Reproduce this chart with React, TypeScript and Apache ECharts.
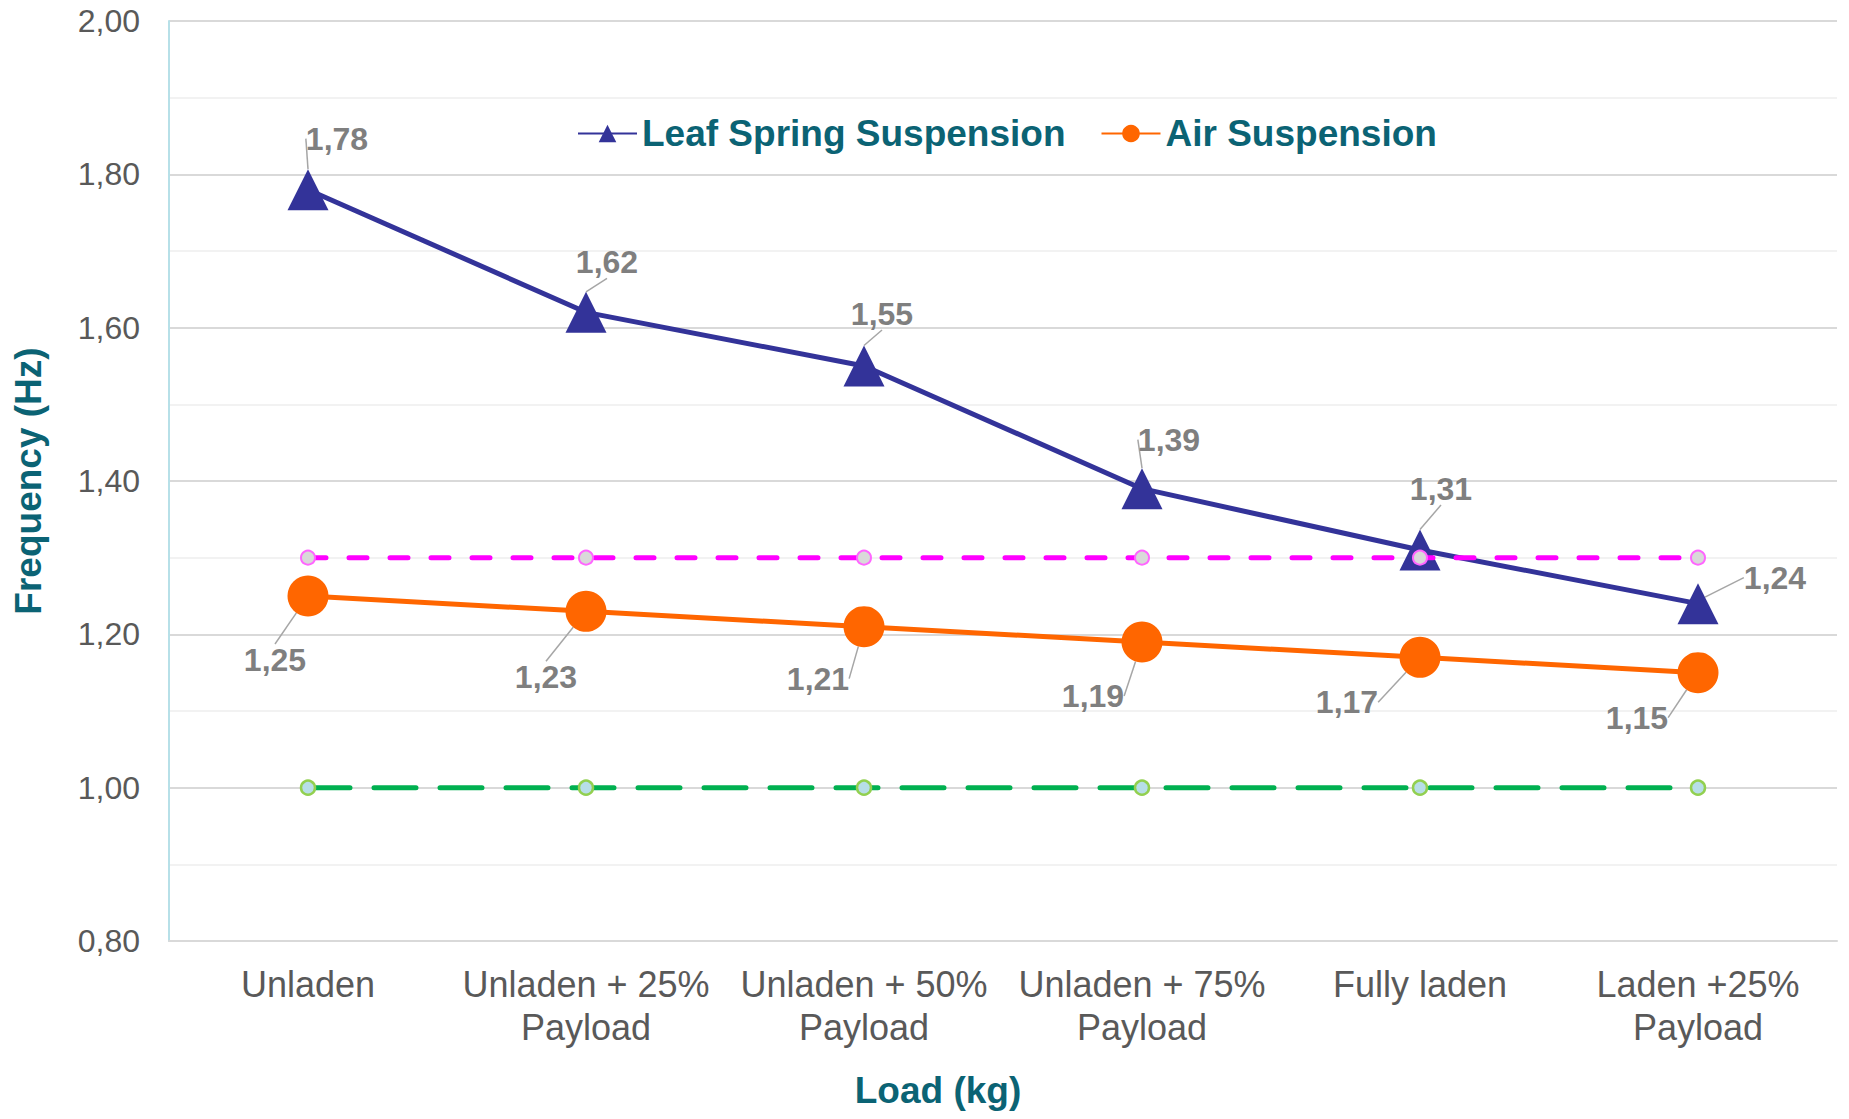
import React, { useEffect, useRef } from "react";
import * as echarts from "echarts";

const categories = [
  "Unladen",
  "Unladen + 25%\nPayload",
  "Unladen + 50%\nPayload",
  "Unladen + 75%\nPayload",
  "Fully laden",
  "Laden +25%\nPayload",
];
const leafSpring = [1.78, 1.62, 1.55, 1.39, 1.31, 1.24];
const airSuspension = [1.25, 1.23, 1.21, 1.19, 1.17, 1.15];
const upperLimit = [1.3, 1.3, 1.3, 1.3, 1.3, 1.3];
const lowerLimit = [1.0, 1.0, 1.0, 1.0, 1.0, 1.0];

// label offsets (px) from each point, as in the reference
const leafLabelOffsets = [[29, -51], [21, -50], [18, -52], [27, -49], [21, -61], [77, -26]];
const airLabelOffsets = [[-33, 64], [-40, 66], [-46, 52], [-49, 54], [-73, 45], [-61, 45]];

const FONT = "'Liberation Sans', Arial, sans-serif";
const TEAL = "#0b6374";
const fmt = (v: number) => v.toFixed(2).replace(".", ",");

export default function App() {
  const ref = useRef<HTMLDivElement>(null);
  useEffect(() => {
    if (!ref.current) return;
    const chart = echarts.init(ref.current, null, { renderer: "svg" });
    const dataLabel = {
      show: true,
      position: "inside" as const,
      formatter: (p: any) => fmt(p.value),
      color: "#7f7f7f",
      fontSize: 32,
      fontWeight: "bold" as const,
      fontFamily: FONT,
    };
    const labelLine = { show: true, lineStyle: { color: "#a6a6a6", width: 1.5 } };
    chart.setOption({
      animation: false,
      backgroundColor: "#ffffff",
      textStyle: { fontFamily: FONT },
      title: {
        text: "Load (kg)",
        left: 933,
        textAlign: "center",
        top: 1067,
        textStyle: { fontSize: 37, fontWeight: "bold", color: TEAL, fontFamily: FONT },
      },
      legend: {
        data: ["Leaf Spring Suspension", "Air Suspension"],
        left: 572,
        top: 110,
        itemWidth: 59,
        itemHeight: 22,
        itemGap: 35,
        textStyle: { fontSize: 37, fontWeight: "bold", color: TEAL, fontFamily: FONT },
      },
      grid: { left: 169, right: 12, top: 21, bottom: 178, containLabel: false },
      xAxis: {
        type: "category",
        data: categories,
        boundaryGap: true,
        axisLine: { show: true, lineStyle: { color: "#d9d9d9", width: 2 } },
        axisTick: { show: false },
        axisLabel: {
          color: "#595959",
          fontSize: 36,
          fontFamily: FONT,
          lineHeight: 43,
          margin: 22,
          interval: 0,
        },
      },
      yAxis: {
        type: "value",
        min: 0.8,
        max: 2.0,
        interval: 0.2,
        name: "Frequency (Hz)",
        nameLocation: "middle",
        nameRotate: 90,
        nameGap: 122,
        nameTextStyle: { fontSize: 37, fontWeight: "bold", color: TEAL, fontFamily: FONT },
        axisLine: { show: true, lineStyle: { color: "#b7e0e8", width: 2 } },
        axisTick: { show: false },
        axisLabel: {
          color: "#595959",
          fontSize: 32,
          fontFamily: FONT,
          margin: 29,
          formatter: (v: number) => fmt(v),
        },
        splitLine: { show: true, lineStyle: { color: "#d9d9d9", width: 2 } },
        minorTick: { show: false, splitNumber: 2 },
        minorSplitLine: { show: true, lineStyle: { color: "#f2f2f2", width: 2 } },
      },
      series: [
        {
          name: "Leaf Spring Suspension",
          type: "line",
          data: leafSpring,
          symbol: "triangle",
          symbolSize: 41,
          itemStyle: { color: "#333399" },
          lineStyle: { color: "#333399", width: 5 },
          label: dataLabel,
          labelLine,
          labelLayout: (p: any) => ({
            dx: leafLabelOffsets[p.dataIndex][0],
            dy: leafLabelOffsets[p.dataIndex][1],
          }),
          z: 3,
        },
        {
          name: "Air Suspension",
          type: "line",
          data: airSuspension,
          symbol: "circle",
          symbolSize: 41,
          itemStyle: { color: "#ff6600" },
          lineStyle: { color: "#ff6600", width: 5 },
          label: dataLabel,
          labelLine,
          labelLayout: (p: any) => ({
            dx: airLabelOffsets[p.dataIndex][0],
            dy: airLabelOffsets[p.dataIndex][1],
          }),
          z: 3,
        },
        {
          name: "Upper limit",
          type: "line",
          data: upperLimit,
          symbol: "circle",
          symbolSize: 14,
          itemStyle: { color: "#d9d9d9", borderColor: "#ff66ff", borderWidth: 2 },
          lineStyle: { color: "#ff00ff", width: 5, type: [18, 23], cap: "round" },
          z: 4,
        },
        {
          name: "Lower limit",
          type: "line",
          data: lowerLimit,
          symbol: "circle",
          symbolSize: 14,
          itemStyle: { color: "#b7dee8", borderColor: "#92d050", borderWidth: 2.5 },
          lineStyle: { color: "#00b050", width: 5, type: [42, 24], cap: "round" },
          z: 4,
        },
      ],
    });
    return () => chart.dispose();
  }, []);
  return <div ref={ref} style={{ width: 1849, height: 1119, margin: -8 }} />;
}
